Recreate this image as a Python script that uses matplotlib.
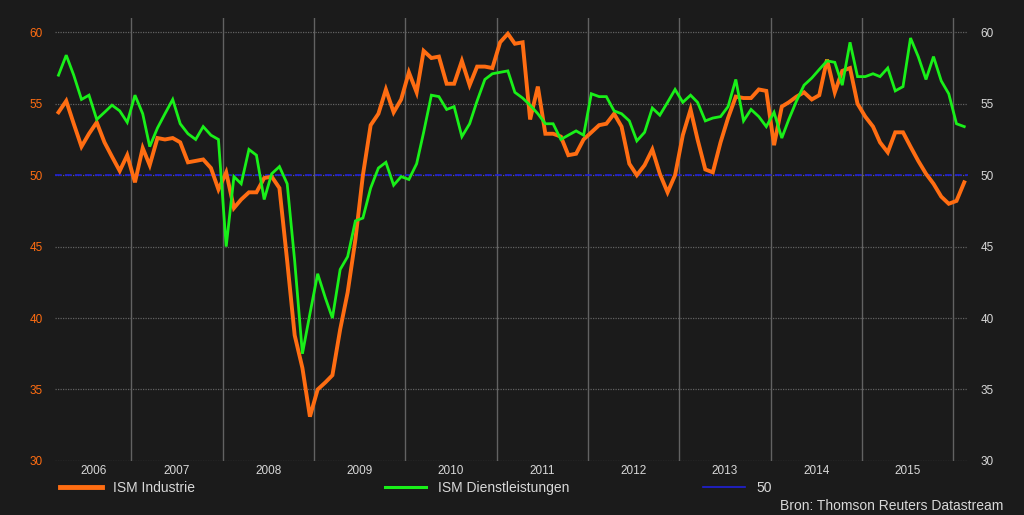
import pandas as pd
import matplotlib
matplotlib.use("Agg")
import matplotlib.pyplot as plt
from matplotlib.lines import Line2D

# monthly data, Mar 2006 - Feb 2016
ism_industrie = [
    54.4, 55.2, 53.6, 52.0, 52.9, 53.7, 52.3, 51.3, 50.3, 51.4,
    49.5, 51.9, 50.7, 52.6, 52.5, 52.6, 52.3, 50.9, 51.0, 51.1,
    50.5, 49.0, 50.2, 47.7, 48.3, 48.8, 48.8, 49.8, 49.9, 49.1,
    44.0, 38.8, 36.5, 33.1, 35.0, 35.5, 36.0, 39.2, 41.8, 45.5,
    50.0, 53.5, 54.3, 56.0, 54.4, 55.3, 57.2, 55.8, 58.7, 58.2,
    58.3, 56.4, 56.4, 58.0, 56.3, 57.6, 57.6, 57.5, 59.3, 59.9,
    59.2, 59.3, 53.9, 56.2, 52.9, 52.9, 52.7, 51.4, 51.5, 52.5,
    53.0, 53.5, 53.6, 54.3, 53.4, 50.8, 50.0, 50.7, 51.8, 50.1,
    48.8, 50.0, 52.8, 54.6, 52.5, 50.4, 50.2, 52.3, 54.0, 55.5,
    55.4, 55.4, 56.0, 55.9, 52.1, 54.8, 55.1, 55.5, 55.8, 55.3,
    55.6, 58.1, 55.8, 57.3, 57.5, 55.0, 54.1, 53.4, 52.3, 51.6,
    53.0, 53.0, 52.0, 51.0, 50.1, 49.4, 48.5, 48.0, 48.2, 49.5,
]
ism_dienst = [
    57.0, 58.4, 57.0, 55.3, 55.6, 53.9, 54.4, 54.9, 54.5, 53.7,
    55.6, 54.3, 52.0, 53.3, 54.3, 55.3, 53.6, 52.9, 52.5, 53.4,
    52.8, 52.5, 45.0, 49.9, 49.4, 51.8, 51.4, 48.3, 50.1, 50.6,
    49.4, 44.0, 37.5, 40.3, 43.1, 41.4, 40.0, 43.4, 44.3, 46.8,
    47.0, 49.1, 50.5, 50.9, 49.3, 49.9, 49.7, 50.8, 53.0, 55.6,
    55.5, 54.6, 54.8, 52.7, 53.6, 55.2, 56.7, 57.1, 57.2, 57.3,
    55.8, 55.4, 54.9, 54.3, 53.6, 53.6, 52.5, 52.8, 53.1, 52.8,
    55.7, 55.5, 55.5, 54.5, 54.3, 53.8, 52.4, 53.0, 54.7, 54.2,
    55.1, 56.0, 55.1, 55.6, 55.1, 53.8, 54.0, 54.1, 54.8, 56.7,
    53.8, 54.6, 54.1, 53.4, 54.4, 52.6, 53.9, 55.2, 56.3, 56.8,
    57.4, 58.0, 57.9, 56.3, 59.3, 56.9, 56.9, 57.1, 56.9, 57.5,
    55.9, 56.2, 59.6, 58.3, 56.7, 58.3, 56.6, 55.7, 53.6, 53.4,
]
years = list(range(2006, 2016))
y_ticks = [30, 35, 40, 45, 50, 55, 60]

dates = pd.date_range("2006-03-01", periods=len(ism_industrie), freq="MS") + pd.Timedelta(days=14)

bg = "#1b1b1b"
orange = "#ff6d12"
green = "#19f019"
blue = "#2020d8"
txt = "#d8d8d8"
gridc = "#626262"

plt.rcParams["font.family"] = ["Liberation Sans", "DejaVu Sans"]

fig = plt.figure(figsize=(10.24, 5.15), dpi=100, facecolor=bg)
ax = fig.add_axes([0.0537, 0.105, 0.8916, 0.860], facecolor=bg)

x0 = pd.Timestamp("2006-03-01")
x1 = pd.Timestamp("2016-03-01")
ax.set_xlim(x0, x1)
ax.set_ylim(30, 61)

# grid
for yv in y_ticks:
    ax.axhline(yv, color=gridc, lw=0.9, ls=(0, (1, 1)), zorder=1)
for yr in years[1:] + [2016]:
    ax.axvline(pd.Timestamp(f"{yr}-01-01"), color=gridc, lw=1.0, zorder=1)

ax.axhline(50, color=blue, lw=1.2, ls=(0, (4, 2)), zorder=2)
ax.plot(dates, ism_industrie, color=orange, lw=2.8, zorder=3, solid_joinstyle="miter")
ax.plot(dates, ism_dienst, color=green, lw=2.0, zorder=4, solid_joinstyle="miter")

# year labels in middle of each year
label_pos = []
for yr in years:
    a = max(pd.Timestamp(f"{yr}-01-01"), x0)
    b = pd.Timestamp(f"{yr + 1}-01-01")
    label_pos.append(a + (b - a) / 2)
ax.set_xticks(label_pos)
ax.set_xticklabels([str(y) for y in years], color=txt, fontsize=8.5)
ax.tick_params(axis="x", length=0, pad=3)

ax.set_yticks(y_ticks)
ax.set_yticklabels([str(v) for v in y_ticks], color=orange, fontsize=8.5)
ax.tick_params(axis="y", length=0, pad=9)

ax2 = ax.twinx()
ax2.set_ylim(ax.get_ylim())
ax2.set_yticks(y_ticks)
ax2.set_yticklabels([str(v) for v in y_ticks], color=txt, fontsize=8.5)
ax2.tick_params(axis="y", length=0, pad=9)

for a in (ax, ax2):
    for s in a.spines.values():
        s.set_visible(False)

# legend entries spread along the bottom
entries = [
    (Line2D([], [], color=orange, lw=3.5), "ISM Industrie", 0.052),
    (Line2D([], [], color=green, lw=2.2), "ISM Dienstleistungen", 0.369),
    (Line2D([], [], color=blue, lw=1.2), "50", 0.680),
]
for h, lab, xpos in entries:
    fig.legend([h], [lab], loc="center left", bbox_to_anchor=(xpos, 0.052),
               frameon=False, fontsize=10, labelcolor=txt,
               handlelength=3.0, handletextpad=0.8, borderpad=0)

fig.text(0.98, 0.004, "Bron: Thomson Reuters Datastream", color=txt,
         fontsize=10, ha="right", va="bottom")

fig.savefig("out.png", dpi=100, facecolor=bg)
